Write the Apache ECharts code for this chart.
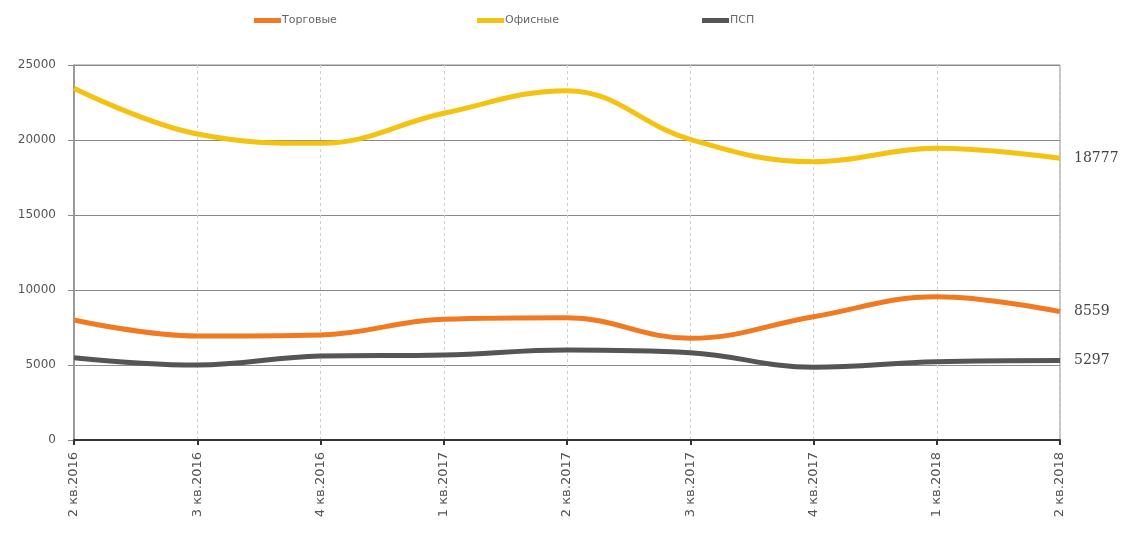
<!DOCTYPE html>
<html>
<head>
<meta charset="utf-8">
<script src="https://cdn.jsdelivr.net/npm/echarts@6/dist/echarts.min.js"></script>
<style>
  html, body { margin: 0; padding: 0; background: #fff; }
  #chart { width: 1128px; height: 533px; }
</style>
</head>
<body>
<div id="chart"></div>
<script>
// Quarterly data, 2 кв.2016 – 2 кв.2018
const categories = ['2 кв.2016', '3 кв.2016', '4 кв.2016', '1 кв.2017', '2 кв.2017',
                    '3 кв.2017', '4 кв.2017', '1 кв.2018', '2 кв.2018'];
const retail  = [8000, 6930, 7000, 8050, 8150, 6780, 8220, 9550, 8559];     // Торговые
const office  = [23450, 20400, 19780, 21780, 23290, 20040, 18550, 19450, 18777]; // Офисные
const storage = [5490, 5000, 5600, 5670, 6000, 5820, 4850, 5220, 5297];     // ПСП
const yTicks = { min: 0, max: 25000, interval: 5000 };

const seriesDefs = [
  { name: 'Торговые', data: retail,  color: '#F07A21' },
  { name: 'Офисные',  data: office,  color: '#F4C211' },
  { name: 'ПСП',      data: storage, color: '#555555' }
];
const legendLeft = [249, 472, 697];

const chart = echarts.init(document.getElementById('chart'), null, { renderer: 'canvas' });

chart.setOption({
  animation: false,
  backgroundColor: '#ffffff',
  legend: seriesDefs.map((s, i) => ({
    data: [s.name],
    left: legendLeft[i],
    top: 10,
    itemWidth: 27,
    itemHeight: 5,
    itemGap: 0,
    icon: 'rect',
    textStyle: { fontFamily: 'DejaVu Sans', fontSize: 11, color: '#666', padding: [0, 0, 0, -4] }
  })),
  grid: {
    left: 74, right: 68, top: 65, bottom: 93,
    show: true, borderColor: '#8a8a8a', borderWidth: 1
  },
  xAxis: {
    type: 'category',
    data: categories,
    boundaryGap: false,
    axisLine: { lineStyle: { color: '#333', width: 2 } },
    axisTick: { show: true, length: 5, lineStyle: { color: '#333', width: 2 } },
    axisLabel: {
      rotate: 90, margin: 12,
      fontFamily: 'DejaVu Sans', fontSize: 13, color: '#555'
    },
    splitLine: { show: true, lineStyle: { color: '#cfcfcf', type: [3, 3], width: 1 } }
  },
  yAxis: {
    type: 'value',
    min: yTicks.min, max: yTicks.max, interval: yTicks.interval,
    axisLine: { show: true, lineStyle: { color: '#8a8a8a', width: 1.5 } },
    axisTick: { show: true, length: 6, lineStyle: { color: '#8a8a8a' } },
    axisLabel: {
      margin: 18, fontFamily: 'DejaVu Sans', fontSize: 12, color: '#555',
      formatter: v => String(v)
    },
    splitLine: { show: true, lineStyle: { color: '#8a8a8a', width: 1 } }
  },
  series: seriesDefs.map(s => ({
    name: s.name,
    type: 'line',
    data: s.data,
    smooth: 0.4,
    symbol: 'none',
    color: s.color,
    lineStyle: { color: s.color, width: 5 },
    endLabel: {
      show: true,
      formatter: p => String(p.value),
      distance: 14,
      fontFamily: 'DejaVu Serif',
      fontSize: 14,
      color: '#444'
    }
  }))
});
</script>
</body>
</html>
